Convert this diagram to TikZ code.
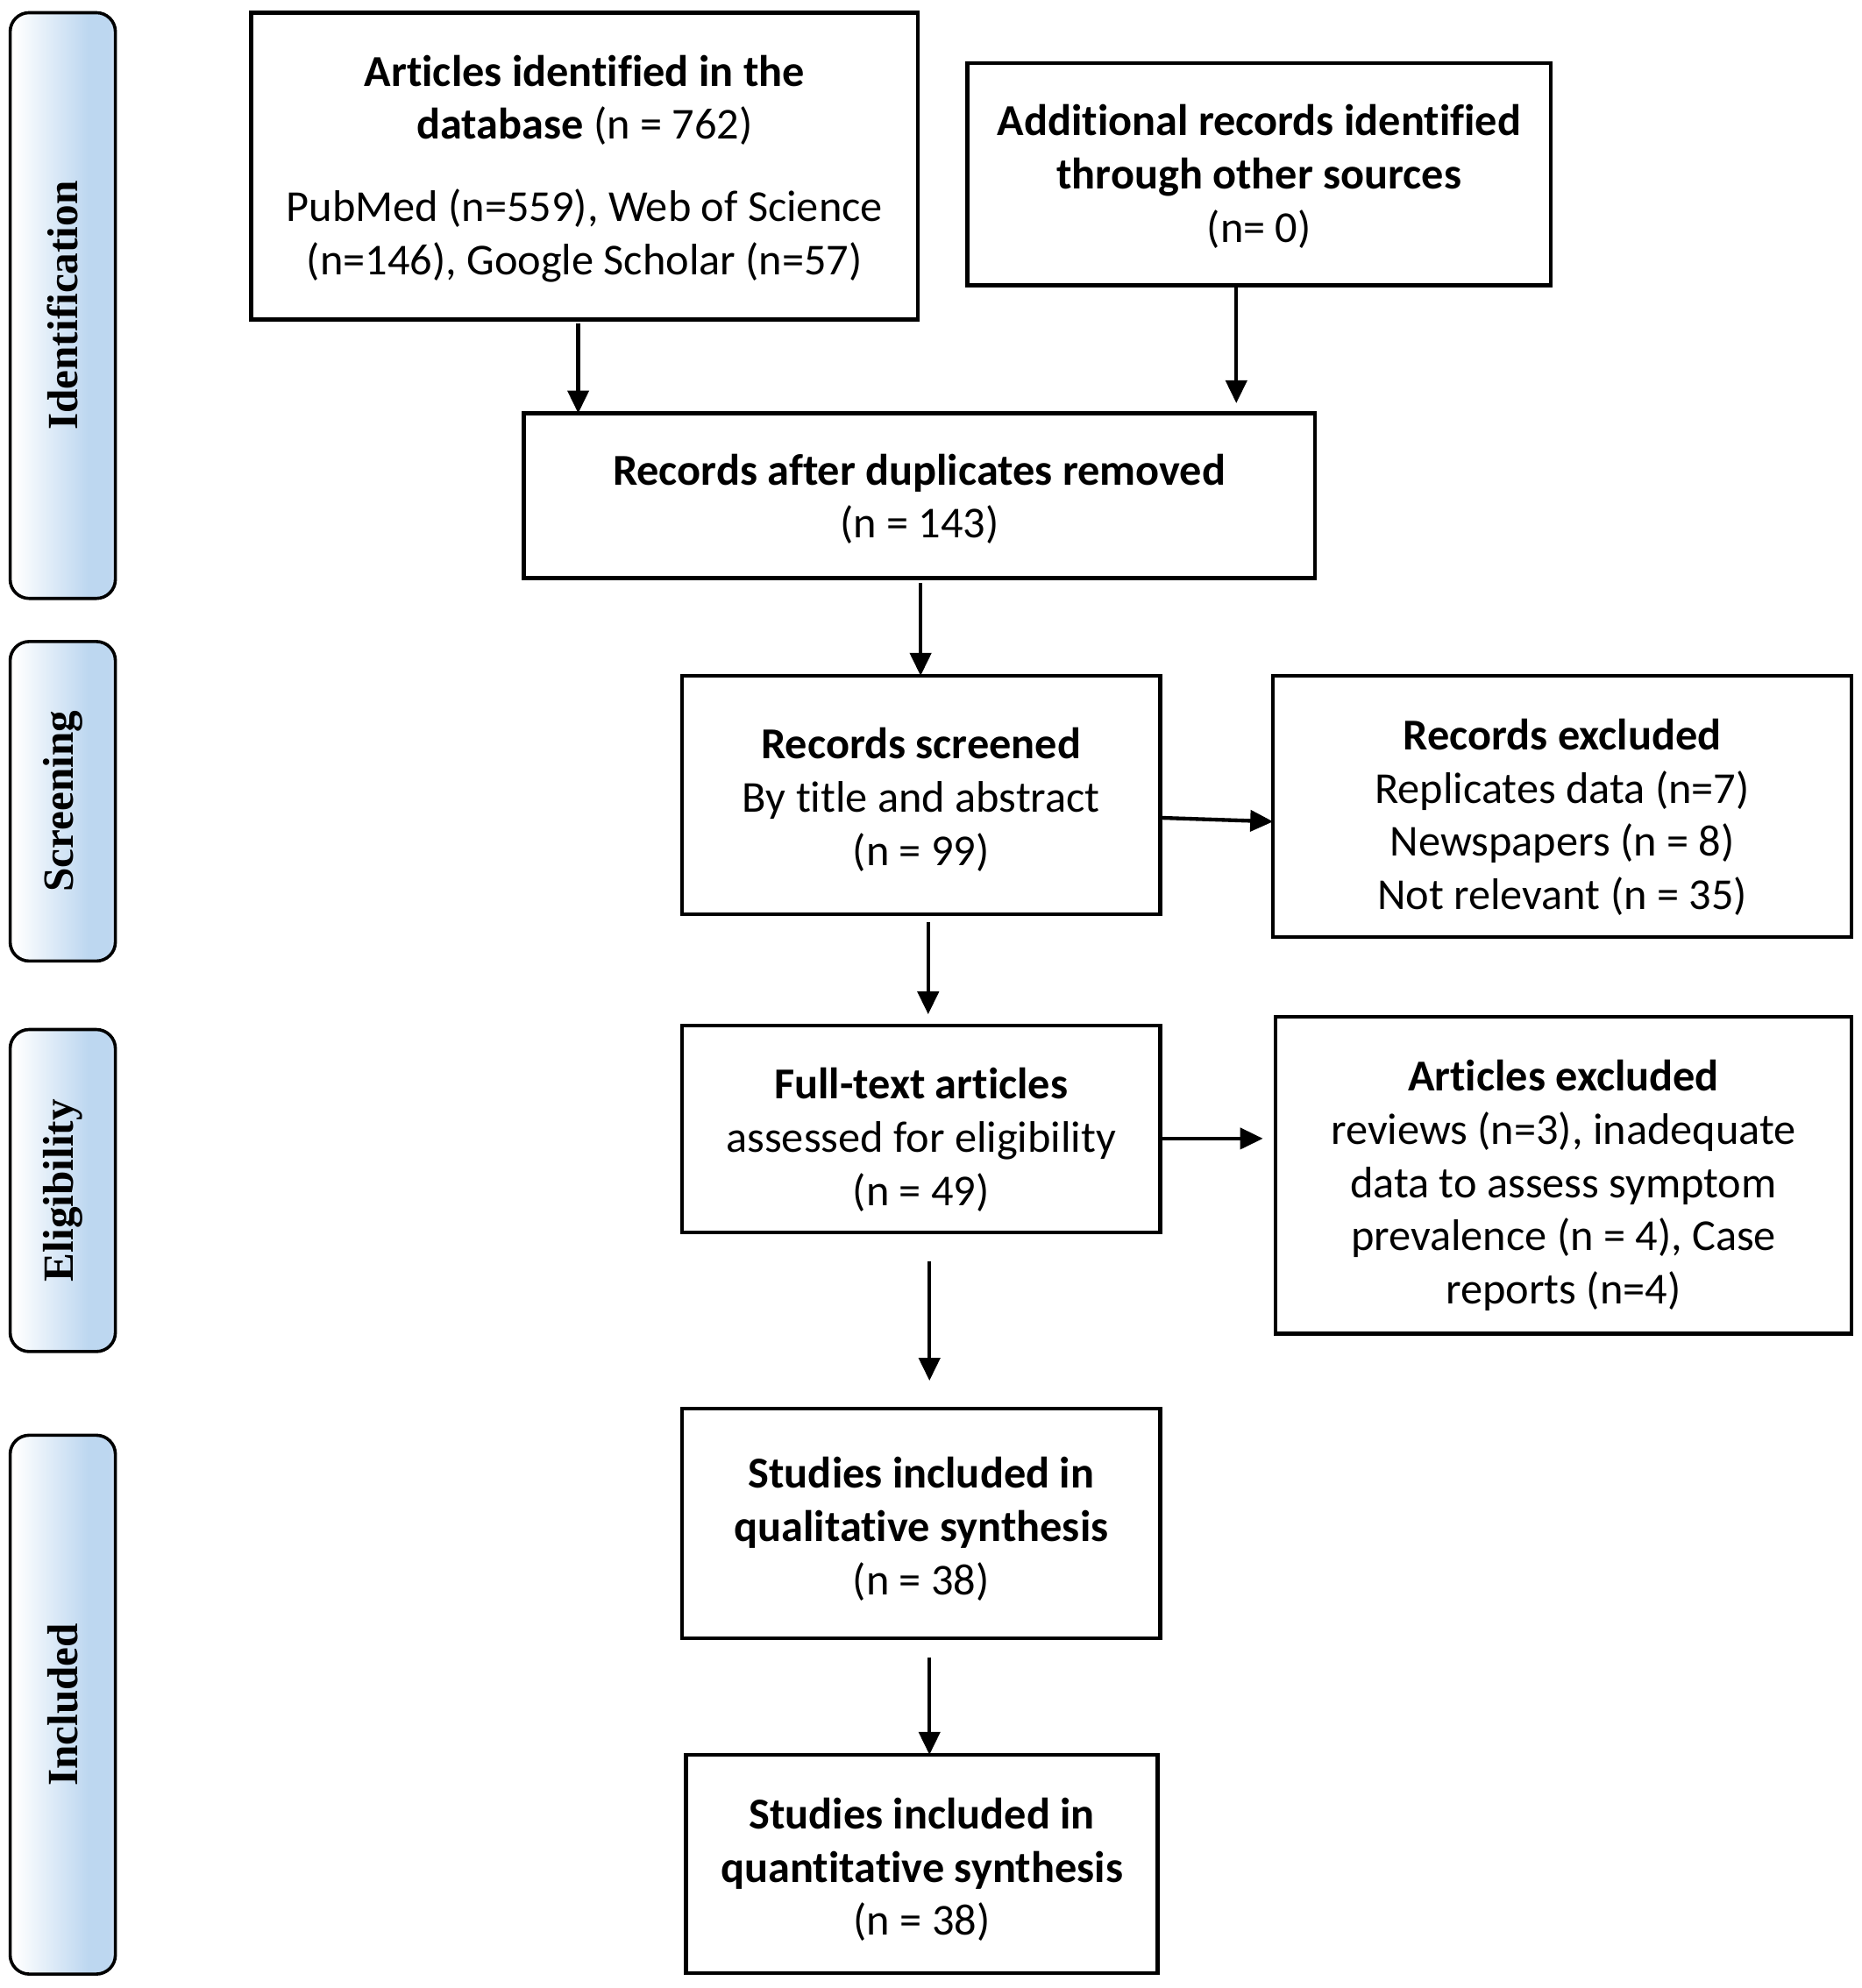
\documentclass[tikz,border=0pt]{standalone}
\usepackage{fontspec}
\setmainfont{Carlito}[Ligatures=NoCommon]
\newfontfamily\sidefont{Liberation Serif}
\usetikzlibrary{arrows.meta}
\definecolor{sb}{RGB}{189,215,240}
\definecolor{sbl}{RGB}{212,229,248}
\pgfdeclarehorizontalshading{sidebar}{100bp}{color(0bp)=(white); color(27bp)=(white); color(62bp)=(sb); color(72bp)=(sb); color(75bp)=(sbl); color(100bp)=(sbl)}
\newcommand\bxt[2]{\raisebox{-#1}[\height][\depth]{\begin{tabular}{@{}c@{}}#2\end{tabular}}}
\begin{document}
\begin{tikzpicture}[x=0.5pt,y=-0.5pt,
  box/.style={draw, line width=1.5pt, inner sep=0pt, outer sep=0pt,
              font=\fontsize{17.4}{21}\selectfont},
  side/.style={draw, line width=1.25pt, rounded corners=7.5pt, shade, shading=sidebar,
               inner sep=0pt, outer sep=0pt, minimum width=41.5pt,
               font=\sidefont\bfseries\fontsize{17}{20}\selectfont},
  arr/.style={line width=1.5pt, -{Triangle[length=9pt,width=8.3pt]}},
]
\fill[white] (0,0) rectangle (1468,1568);
\useasboundingbox (0,0) rectangle (1468,1568);

% side panels
\node[side, minimum height=231pt] (sid) at (49.5,241) {\rotatebox{90}{Identification}};
\node[side, minimum height=126pt] (ssc) at (49.5,632) {\rotatebox{90}{Screening}};
\node[side, minimum height=127pt] (sel) at (49.5,939) {\rotatebox{90}{Eligibility}};
\node[side, minimum height=212.5pt] (sin) at (49.5,1344.5) {\rotatebox{90}{Included}};

% boxes
\node[box, minimum width=263pt, minimum height=121pt] (db) at (461,131)
  {\bxt{1.5pt}{\textbf{Articles identified in the}\\ \textbf{database} (n = 762)\\[11.5pt]
   PubMed (n=559), Web of Science\\ (n=146), Google Scholar (n=57)}};
\node[box, minimum width=230pt, minimum height=87.5pt] (oth) at (993,137.5)
  {\bxt{1.5pt}{\textbf{Additional records identified}\\ \textbf{through other sources}\\ (n= 0)}};
\node[box, minimum width=312pt, minimum height=65pt] (dup) at (725,391)
  {\bxt{2pt}{\textbf{Records after duplicates removed}\\ (n = 143)}};
\node[box, minimum width=188.5pt, minimum height=94pt] (scr) at (726.5,627)
  {\bxt{2.5pt}{\textbf{Records screened}\\ By title and abstract\\ (n = 99)}};
\node[box, minimum width=228pt, minimum height=103pt] (rex) at (1232,636)
  {\bxt{5pt}{\textbf{Records excluded}\\ Replicates data (n=7)\\ Newspapers (n = 8)\\ Not relevant (n = 35)}};
\node[box, minimum width=188.5pt, minimum height=81.5pt] (ft) at (726.5,890.5)
  {\bxt{5pt}{\textbf{Full-text articles}\\ assessed for eligibility\\ (n = 49)}};
\node[box, minimum width=227pt, minimum height=125pt] (aex) at (1233,927)
  {\bxt{4.5pt}{\textbf{Articles excluded}\\ reviews (n=3), inadequate\\ data to assess symptom\\ prevalence (n = 4), Case\\ reports (n=4)}};
\node[box, minimum width=188.5pt, minimum height=90.5pt] (qual) at (726.5,1201.5)
  {\bxt{3pt}{\textbf{Studies included in}\\ \textbf{qualitative synthesis}\\ (n = 38)}};
\node[box, minimum width=186pt, minimum height=86pt] (quan) at (727,1470)
  {\bxt{3pt}{\textbf{Studies included in}\\ \textbf{quantitative synthesis}\\ (n = 38)}};

% helper coordinates for connector columns / rows
\coordinate (c456) at (456,0);
\coordinate (c975) at (975,0);
\coordinate (c726) at (726,0);
\coordinate (c732) at (732,0);
\coordinate (c733) at (733,0);
\coordinate (r645) at (0,645);
\coordinate (r648) at (0,648);
\coordinate (r898) at (0,898);

% connectors
\draw[arr, shorten <=1.5pt] (db.south -| c456) -- (dup.north -| c456);
\draw[arr, shorten >=4pt] (oth.south -| c975) -- (dup.north -| c975);
\draw[arr, shorten <=2pt] (dup.south -| c726) -- (scr.north -| c726);
\draw[arr] (scr.east |- r645) -- (rex.west |- r648);
\draw[arr, shorten <=3pt, shorten >=4.5pt] (scr.south -| c732) -- (ft.north -| c732);
\draw[arr, shorten >=5pt] (ft.east |- r898) -- (aex.west |- r898);
\draw[arr, shorten <=11.5pt, shorten >=11pt] (ft.south -| c733) -- (qual.north -| c733);
\draw[arr, shorten <=7.5pt] (qual.south -| c733) -- (quan.north -| c733);
\end{tikzpicture}
\end{document}
